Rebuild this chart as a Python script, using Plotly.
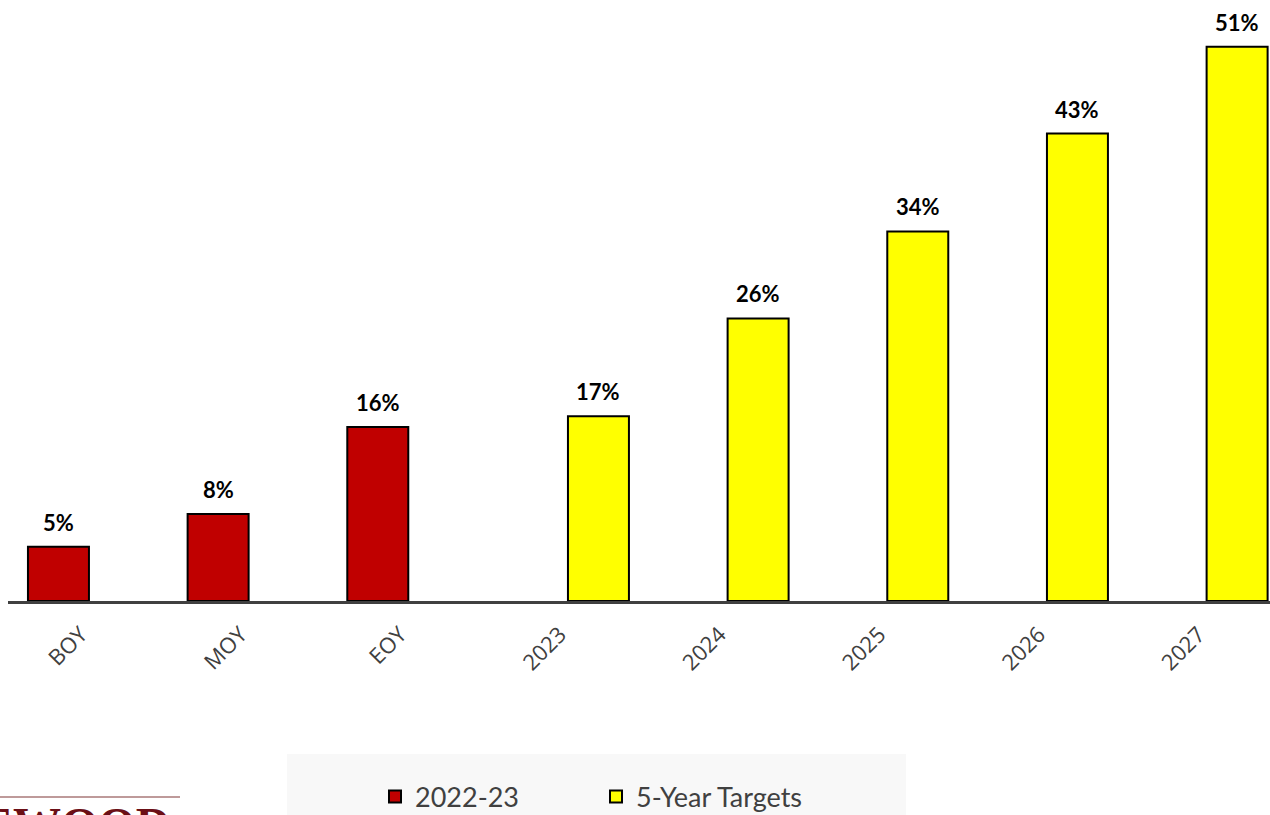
import plotly.graph_objects as go

# Category axis and values (percent)
categories = ["BOY", "MOY", "EOY", "2023", "2024", "2025", "2026", "2027"]
actual_cats = ["BOY", "MOY", "EOY"]
actual_vals = [5, 8, 16]
target_cats = ["2023", "2024", "2025", "2026", "2027"]
target_vals = [17, 26, 34, 43, 51]

RED = "#c00000"
YELLOW = "#ffff00"
TEXT_GRAY = "#404040"
BAR_W = 0.382  # bar width in category units

W, H = 1270, 815
ML, MR, MT, MB = 8, 0, 0, 214
PW, PH = W - ML - MR, H - MT - MB


def px_x(px):
    return (px - ML) / PW


def px_y(py):
    return (H - MB - py) / PH


fig = go.Figure()
# Current-year results sit just left of each category centre, targets just right
fig.add_trace(go.Bar(
    x=actual_cats, y=actual_vals, name="2022-23",
    width=BAR_W, offset=-BAR_W,
    marker=dict(color=RED, line=dict(color="black", width=2)),
    hoverinfo="x+y",
))
fig.add_trace(go.Bar(
    x=target_cats, y=target_vals, name="5-Year Targets",
    width=BAR_W, offset=0,
    marker=dict(color=YELLOW, line=dict(color="black", width=2)),
    hoverinfo="x+y",
))

# Value labels above each bar
label_font = dict(family="Lato, sans-serif", size=22, color="black")
for cats, vals, off in ((actual_cats, actual_vals, -BAR_W / 2), (target_cats, target_vals, BAR_W / 2)):
    for c, v in zip(cats, vals):
        fig.add_annotation(
            x=categories.index(c) + off, y=v, xref="x", yref="y",
            text=f"<b>{v}%</b>",
            showarrow=False, yshift=9, yanchor="bottom",
            font=label_font,
        )

# Legend backdrop
fig.add_shape(type="rect", xref="paper", yref="paper",
              x0=px_x(287), x1=px_x(906), y0=px_y(830), y1=px_y(754),
              fillcolor="#f8f8f8", line=dict(width=0), layer="below")

# Logo strip at lower left
fig.add_shape(type="line", xref="paper", yref="paper",
              x0=px_x(0), x1=px_x(180), y0=px_y(797), y1=px_y(797),
              line=dict(color="#a87878", width=1.5))
fig.add_annotation(
    xref="paper", yref="paper", x=px_x(172), y=px_y(796),
    xanchor="right", yanchor="top", showarrow=False,
    text="<b>EWOOD</b>",
    font=dict(family="Liberation Serif, serif", size=48, color="#6b0f16"),
)

fig.update_layout(
    width=W, height=H,
    margin=dict(l=ML, r=MR, t=MT, b=MB, autoexpand=False),
    paper_bgcolor="white", plot_bgcolor="white",
    barmode="overlay",
    showlegend=True,
    legend=dict(
        orientation="h", x=px_x(375), y=px_y(797),
        xanchor="left", yanchor="middle",
        bgcolor="rgba(0,0,0,0)",
        font=dict(family="Lato, sans-serif", size=27, color=TEXT_GRAY),
        entrywidth=176, entrywidthmode="pixels",
        traceorder="normal",
    ),
    xaxis=dict(
        type="category", categoryorder="array", categoryarray=categories,
        range=[-0.507, 7.397],
        showline=True, linecolor=TEXT_GRAY, linewidth=3,
        ticks="outside", ticklen=9, tickcolor="rgba(0,0,0,0)", tickangle=-45,
        ticklabelshift=-8,
        tickfont=dict(family="Open Sans, sans-serif", size=22, color=TEXT_GRAY),
        showgrid=False, zeroline=False, fixedrange=True, automargin=False,
    ),
    yaxis=dict(
        range=[0, PH / 10.87],
        visible=False, showgrid=False, zeroline=False, fixedrange=True,
    ),
)

fig.write_html("out.html")
